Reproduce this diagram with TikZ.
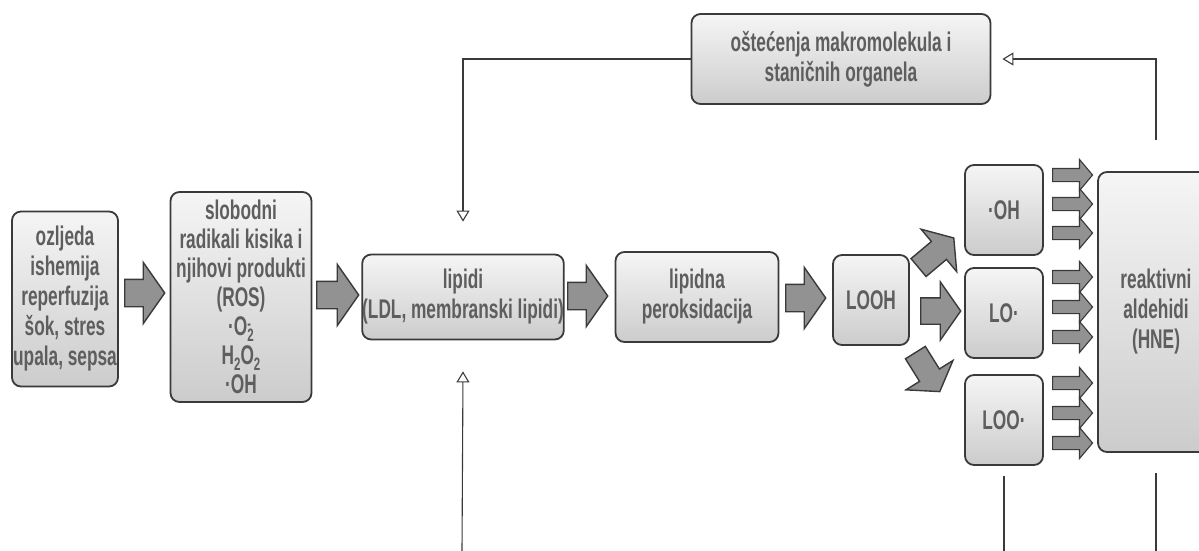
\documentclass[tikz,border=0pt]{standalone}
\usepackage{fontspec}
\setmainfont{Liberation Sans}[FakeStretch=0.64]
\usetikzlibrary{shapes.arrows,arrows.meta}

\definecolor{boxtop}{RGB}{245,245,245}
\definecolor{boxbot}{RGB}{204,204,204}
\definecolor{boxline}{RGB}{58,58,58}
\definecolor{txtgray}{RGB}{94,94,94}
\definecolor{arrfill}{RGB}{146,146,146}

\newcommand{\ox}{O\rlap{\smash{\raisebox{0.45ex}{\fontsize{17}{17}\selectfont -}}}\smash{\raisebox{-0.4ex}{\fontsize{18}{18}\selectfont 2}}}
\newcommand{\sub}[1]{\smash{\raisebox{-0.4ex}{\fontsize{18}{18}\selectfont #1}}}

\tikzset{
  box/.style={draw=boxline, line width=1.8pt, rounded corners=9pt, top color=boxtop, bottom color=boxbot,
    text=txtgray, font=\fontsize{27}{30}\selectfont\bfseries, align=center, inner sep=0pt},
  bigarrow/.style={single arrow, draw=boxline, fill=arrfill, line width=1.4pt, inner xsep=0pt, inner ysep=13pt,
    anchor=tail, minimum height=40pt, single arrow head extend=17pt, single arrow tip angle=110},
  smallarrow/.style={bigarrow, inner ysep=6pt, minimum height=40pt, single arrow head extend=9pt,
    single arrow tip angle=100, line width=1.1pt},
  fb/.style={draw=boxline, line width=1.1pt, -{Triangle[open,length=11pt,width=13pt]}},
  wire/.style={draw=boxline, line width=1.1pt}
}

\begin{document}
\begin{tikzpicture}[x=1pt, y=-1pt]
\useasboundingbox (0,0) rectangle (1199,551);

\node[box, minimum width=106pt, minimum height=175pt] (inj) at (65,299) {ozljeda\\ishemija\\reperfuzija\\šok, stres\\upala, sepsa};
\node[box, minimum width=141pt, minimum height=210pt, font=\fontsize{27}{29}\selectfont\bfseries] (ros) at (241,297) {slobodni\\radikali kisika i\\njihovi produkti\\(ROS)\\·\ox\\H\sub{2}O\sub{2}\\·OH};
\node[box, minimum width=198pt, minimum height=85pt] (lip) at (463,297) {lipidi\\(LDL, membranski lipidi)};
\node[box, minimum width=163pt, minimum height=90pt] (perox) at (697,297) {lipidna\\peroksidacija};
\node[box, minimum width=76pt, minimum height=90pt] (looh) at (871,300) {LOOH};
\node[box, minimum width=78pt, minimum height=90pt] (oh) at (1004,210) {·OH};
\node[box, minimum width=78pt, minimum height=90pt] (lo) at (1004,313) {LO·};
\node[box, minimum width=78pt, minimum height=90pt] (loo) at (1004,420) {LOO·};
\node[box, minimum width=116pt, minimum height=280pt] (ald) at (1156,312) {reaktivni\\aldehidi\\(HNE)};
\node[box, minimum width=299pt, minimum height=90pt] (dmg) at (841,59) {oštećenja makromolekula i\\staničnih organela};

\node[bigarrow] (a1) at (124,293) {};
\node[bigarrow, minimum height=42pt] (a2) at (316,295) {};
\node[bigarrow] (a3) at (567,296) {};
\node[bigarrow] (a4) at (785,298) {};
\node[bigarrow, inner ysep=12.5pt, single arrow head extend=16pt] (a5) at (920,311) {};
\node[bigarrow, inner ysep=11pt, minimum height=46pt, single arrow head extend=16pt, rotate=40] (a6) at (918,268) {};
\node[bigarrow, inner ysep=11pt, minimum height=46pt, single arrow head extend=16pt, rotate=-58] (a7) at (915,352) {};

\foreach \y [count=\i] in {175,204,233,277,307,337,383,413,443}
  \node[smallarrow] (s\i) at (1052,\y) {};

\draw[fb] (dmg.west) -| ([yshift=32pt]lip.north);
\draw[fb] ([yshift=31pt]ald.north) |- ([xshift=11pt]dmg.east);

\coordinate (b1) at (462,551);
\coordinate (b2) at (1004,551);
\coordinate (b3) at (1156,551);
\draw[fb] (b1) -- ([yshift=-31pt]lip.south);
\draw[wire] ([yshift=-10pt]loo.south) -- (b2);
\draw[wire] ([yshift=-20pt]ald.south) -- (b3);

\end{tikzpicture}
\end{document}
